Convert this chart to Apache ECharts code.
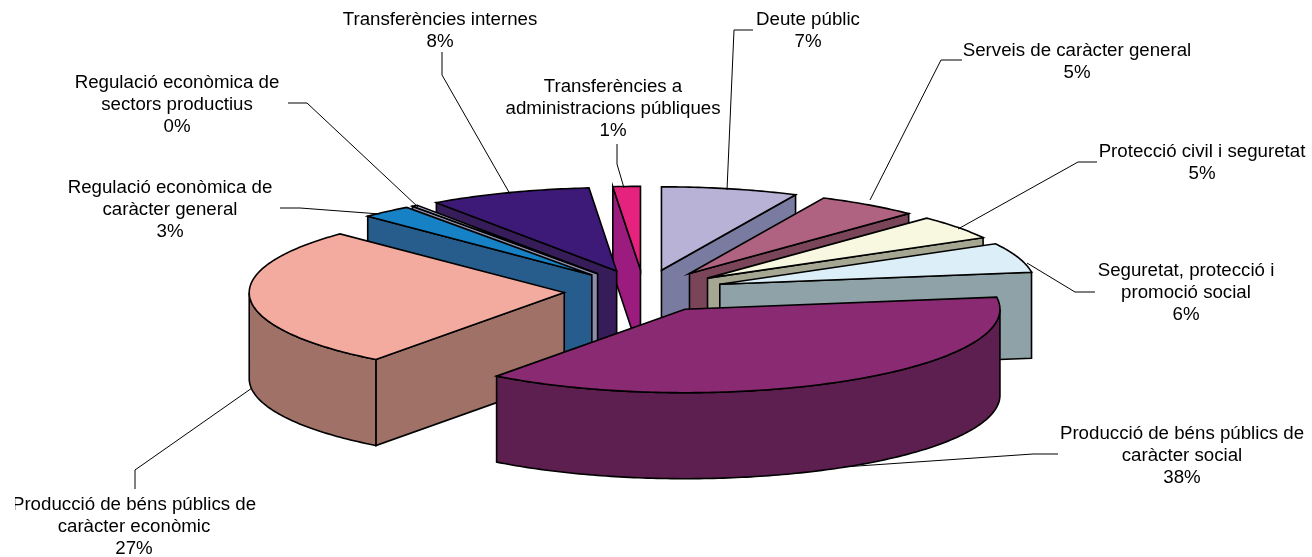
<!DOCTYPE html>
<html>
<head>
<meta charset="utf-8">
<style>html,body{margin:0;padding:0;background:#fff}#c{width:1312px;height:557px}</style>
<script src="https://cdn.jsdelivr.net/npm/echarts@6/dist/echarts.min.js"></script>
</head>
<body>
<div id="c"></div>
<script>
// ---- data ----
const categories = [
  'Deute públic',
  'Serveis de caràcter general',
  'Protecció civil i seguretat',
  'Seguretat, protecció i\npromoció social',
  'Producció de béns públics de\ncaràcter social',
  'Producció de béns públics de\ncaràcter econòmic',
  'Regulació econòmica de\ncaràcter general',
  'Regulació econòmica de\nsectors productius',
  'Transferències internes',
  'Transferències a\nadministracions públiques'
];
const values = [7.0, 5.25, 4.7, 5.75, 37.5, 27.2, 2.6, 0.3, 8.3, 1.4];
const percentLabels = ['7%','5%','5%','6%','38%','27%','3%','0%','8%','1%'];
const topColors  = ['#B8B3D6','#B06380','#F8F8E1','#DCEEF7','#8A2A73','#F3AB9F','#1681C4','#B4B4D0','#3E1A78','#E6227F'];
const wallColors = ['#7A7BA0','#7A4558','#A5A792','#8EA2A8','#5C1F4F','#9F7167','#275D8C','#8C8CAB','#361C58','#9B1C7E'];

// ---- layout (not data) ----
const PIE = {cx: 644, cy: 291, r: 315, squash: 0.265, explode: 80, depth: 86};
const labelCenters = [[808,31],[1077,62],[1202,163],[1186,293],[1182,456],[134,527],[170,210],[177,105],[440,31],[613,109]];
const leaders = [
  [[753,30],[734,30],[727,190]],
  [[962,60],[941,60],[870,200]],
  [[1097,162],[1078,162],[958,229]],
  [[1095,292],[1075,292],[1027,263]],
  [[1058,454],[1033,454],[843,467]],
  [[135,489],[135,470],[252,388]],
  [[280,208],[300,208],[380,214]],
  [[288,103],[307,103],[418,207]],
  [[442,52],[442,75],[510,194]],
  [[617,144],[617,164],[624,188]]
];

// ---- geometry derived from values ----
const total = values.reduce((a, b) => a + b, 0);
let acc = 0;
const sectors = values.map(v => {
  const a0 = acc / total * Math.PI * 2;
  acc += v;
  const a1 = acc / total * Math.PI * 2;
  return {a0, a1, mid: (a0 + a1) / 2};
});
const paintOrder = sectors.map((s, i) => i).sort((a, b) => Math.cos(sectors[b].mid) - Math.cos(sectors[a].mid));
const rank = [];
paintOrder.forEach((idx, pos) => { rank[idx] = pos; });

function project(ax, ay, angle, rad) {
  return [ax + Math.sin(angle) * rad, ay - Math.cos(angle) * rad * PIE.squash];
}
function arc(ax, ay, from, to) {
  const pts = [];
  const n = Math.max(2, Math.ceil((to - from) / 0.015));
  for (let k = 0; k <= n; k++) pts.push(project(ax, ay, from + (to - from) * k / n, PIE.r));
  return pts;
}
const down = p => [p[0], p[1] + PIE.depth];

function renderSlice(params, api) {
  const i = api.value(0);
  const s = sectors[i];
  const [ax, ay] = project(PIE.cx, PIE.cy, s.mid, PIE.explode);
  const apex = [ax, ay];
  const line = {stroke: '#000', lineWidth: 1.6, lineJoin: 'miter', fill: wallColors[i]};
  const children = [];
  const z = rank[i] * 10;
  const wall = (p) => {
    children.push({type: 'polygon', z2: z + children.length, shape: {points: p}, style: line});
  };
  if (Math.sin(s.a0) < 0) {
    const e = project(ax, ay, s.a0, PIE.r);
    wall([apex, e, down(e), down(apex)]);
  }
  if (Math.sin(s.a1) > 0) {
    const e = project(ax, ay, s.a1, PIE.r);
    wall([apex, e, down(e), down(apex)]);
  }
  const from = Math.max(s.a0, Math.PI / 2), to = Math.min(s.a1, Math.PI * 1.5);
  if (to > from) {
    const rim = arc(ax, ay, from, to);
    wall(rim.concat(rim.slice().reverse().map(down)));
  }
  children.push({
    type: 'polygon', z2: z + children.length,
    shape: {points: [apex].concat(arc(ax, ay, s.a0, s.a1))},
    style: {stroke: '#000', lineWidth: 1.6, lineJoin: 'miter', fill: topColors[i]}
  });
  return {type: 'group', children};
}

const graphics = [];
leaders.forEach(pts => {
  graphics.push({type: 'polyline', z: 20, shape: {points: pts}, style: {stroke: '#000', lineWidth: 1, fill: null}});
});
categories.forEach((name, i) => {
  graphics.push({
    type: 'text', z: 30, x: labelCenters[i][0], y: labelCenters[i][1],
    style: {
      text: name + '\n' + percentLabels[i],
      fill: '#000', font: '18.7px "Liberation Sans", Arial, sans-serif',
      lineHeight: 22, align: 'center', verticalAlign: 'middle'
    }
  });
});
// the source image crops the first letter of this label at the left edge
graphics.push({type: 'rect', z: 40, shape: {x: 0, y: 494, width: 15, height: 22}, style: {fill: '#fff'}});

const chart = echarts.init(document.getElementById('c'), null, {renderer: 'canvas'});
chart.setOption({
  animation: false,
  backgroundColor: '#fff',
  series: [{
    type: 'custom',
    coordinateSystem: 'none',
    z: 10,
    silent: true,
    renderItem: renderSlice,
    data: paintOrder.map(i => [i, values[i]])
  }],
  graphic: graphics
});
</script>
</body>
</html>
